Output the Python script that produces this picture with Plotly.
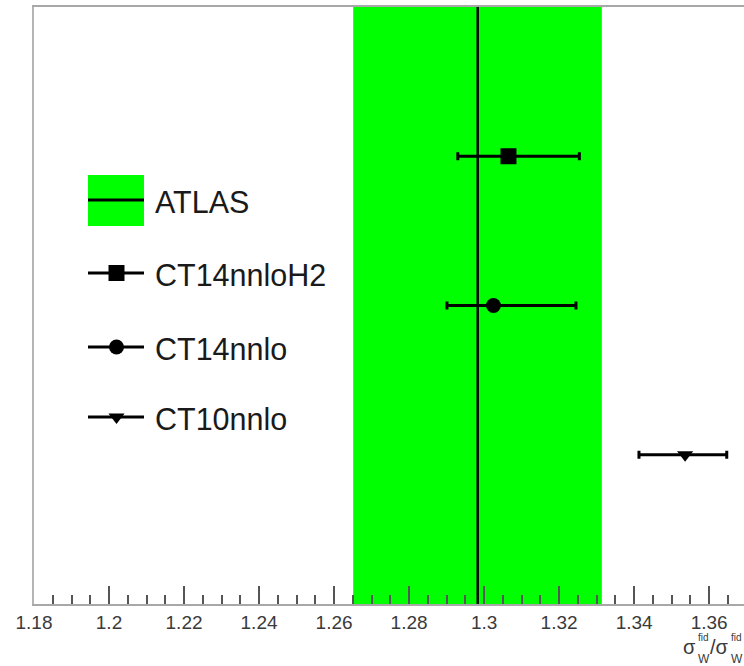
import plotly.graph_objects as go

# ---- data ----
labels = ["CT14nnloH2", "CT14nnlo", "CT10nnlo"]
central = [1.3065, 1.3025, 1.3536]
err_lo = [0.0135, 0.0124, 0.0123]
err_hi = [0.0189, 0.0220, 0.0111]
rows = [3, 2, 1]
symbols = ["square", "circle", "triangle-down"]

atlas_label = "ATLAS"
atlas_central = 1.2983
atlas_lo = 1.2651
atlas_hi = 1.3314

x_range = [1.18, 1.3693]
y_range = [0, 4]
tick_vals = [1.18, 1.20, 1.22, 1.24, 1.26, 1.28, 1.30, 1.32, 1.34, 1.36]
tick_text = ["1.18", "1.2", "1.22", "1.24", "1.26", "1.28", "1.3", "1.32", "1.34", "1.36"]

W, H = 744, 666
L, R, T, B = 34, 0, 7, 62
FONT = "Liberation Sans, Arial, sans-serif"

fig = go.Figure()

# ATLAS band
fig.add_trace(go.Scatter(
    x=[atlas_lo, atlas_hi, atlas_hi, atlas_lo, atlas_lo],
    y=[y_range[0], y_range[0], y_range[1], y_range[1], y_range[0]],
    fill="toself", fillcolor="#00ff00", mode="lines",
    line=dict(width=0, color="#00ff00"), showlegend=False, hoverinfo="skip"))
# ATLAS central line
fig.add_trace(go.Scatter(
    x=[atlas_central, atlas_central], y=y_range, mode="lines",
    line=dict(color="black", width=2.5), showlegend=False, hoverinfo="skip"))

marker_sizes = {"square": 16, "circle": 15, "triangle-down": 14}
for lab, c, lo, hi, r, s in zip(labels, central, err_lo, err_hi, rows, symbols):
    fig.add_trace(go.Scatter(
        x=[c], y=[r], mode="markers", name=lab,
        marker=dict(symbol=s, size=marker_sizes[s], color="black"),
        error_x=dict(type="data", symmetric=False, array=[hi], arrayminus=[lo],
                     color="black", thickness=3, width=4),
        showlegend=False))

# ---- custom legend (pixel-like overlay axes) ----
leg_x0, leg_x1 = 88, 144
leg_text_x = 153
leg_rows = [200, 273, 347, 417]

fig.add_shape(type="rect", xref="x2", yref="y2", x0=leg_x0, x1=leg_x1, y0=175, y1=226,
              fillcolor="#00ff00", line=dict(width=0), layer="above")
for yy in leg_rows:
    fig.add_shape(type="line", xref="x2", yref="y2", x0=leg_x0, x1=leg_x1, y0=yy, y1=yy,
                  line=dict(color="black", width=3), layer="above")
for s, yy in zip(symbols, leg_rows[1:]):
    fig.add_trace(go.Scatter(
        x=[116.5], y=[yy], xaxis="x2", yaxis="y2", mode="markers",
        marker=dict(symbol=s, size=marker_sizes[s], color="black"),
        showlegend=False, hoverinfo="skip"))
for txt, yy in zip([atlas_label] + labels, leg_rows):
    fig.add_annotation(x=leg_text_x, y=yy + 2, xref="x2", yref="y2", text=txt,
                       showarrow=False, xanchor="left", yanchor="middle",
                       font=dict(family=FONT, size=30.5, color="#1a1a1a"))

# axis title σ^fid_W / σ^fid_W (cropped at right edge, as in the reference)
def px_x(px):
    return (px - L) / (W - L - R)

def px_y(py):
    return (H - B - py) / (H - B - T)

title_parts = [("σ", 682, 647, 20), ("fid", 697, 637, 10), ("W", 697, 659, 12),
               ("/σ", 709, 647, 20), ("fid", 730, 637, 10), ("W", 730, 659, 12)]
for txt, xx, yy, fs in title_parts:
    fig.add_annotation(x=px_x(xx), y=px_y(yy), xref="paper", yref="paper", text=txt,
                       showarrow=False, xanchor="left", yanchor="middle", borderpad=0,
                       font=dict(family=FONT, size=fs, color="#3a3a3a"))

fig.update_layout(
    width=W, height=H,
    margin=dict(l=L, r=R, t=T, b=B),
    paper_bgcolor="white", plot_bgcolor="white",
    font=dict(family=FONT),
    xaxis=dict(range=x_range, showgrid=False, zeroline=False,
               showline=True, linecolor="#a8a8a8", linewidth=2, mirror=True,
               tickvals=tick_vals, ticktext=tick_text,
               ticks="inside", ticklen=18, tickwidth=1.5, tickcolor="#555",
               minor=dict(dtick=0.005, tick0=1.18, ticks="inside", ticklen=9,
                          tickwidth=1.5, tickcolor="#555", showgrid=False),
               tickfont=dict(family=FONT, size=19, color="#3a3a3a")),
    yaxis=dict(range=y_range, showgrid=False, zeroline=False,
               showline=True, linecolor="#b5b5b5", linewidth=2,
               showticklabels=False, ticks=""),
    xaxis2=dict(range=[L, W - R], overlaying="x", visible=False, fixedrange=True),
    yaxis2=dict(range=[H - B, T], overlaying="y", visible=False, fixedrange=True),
)

fig.write_html("out.html", config={"displayModeBar": False},
               post_script="document.body.style.margin='0';document.body.style.overflow='hidden';")
